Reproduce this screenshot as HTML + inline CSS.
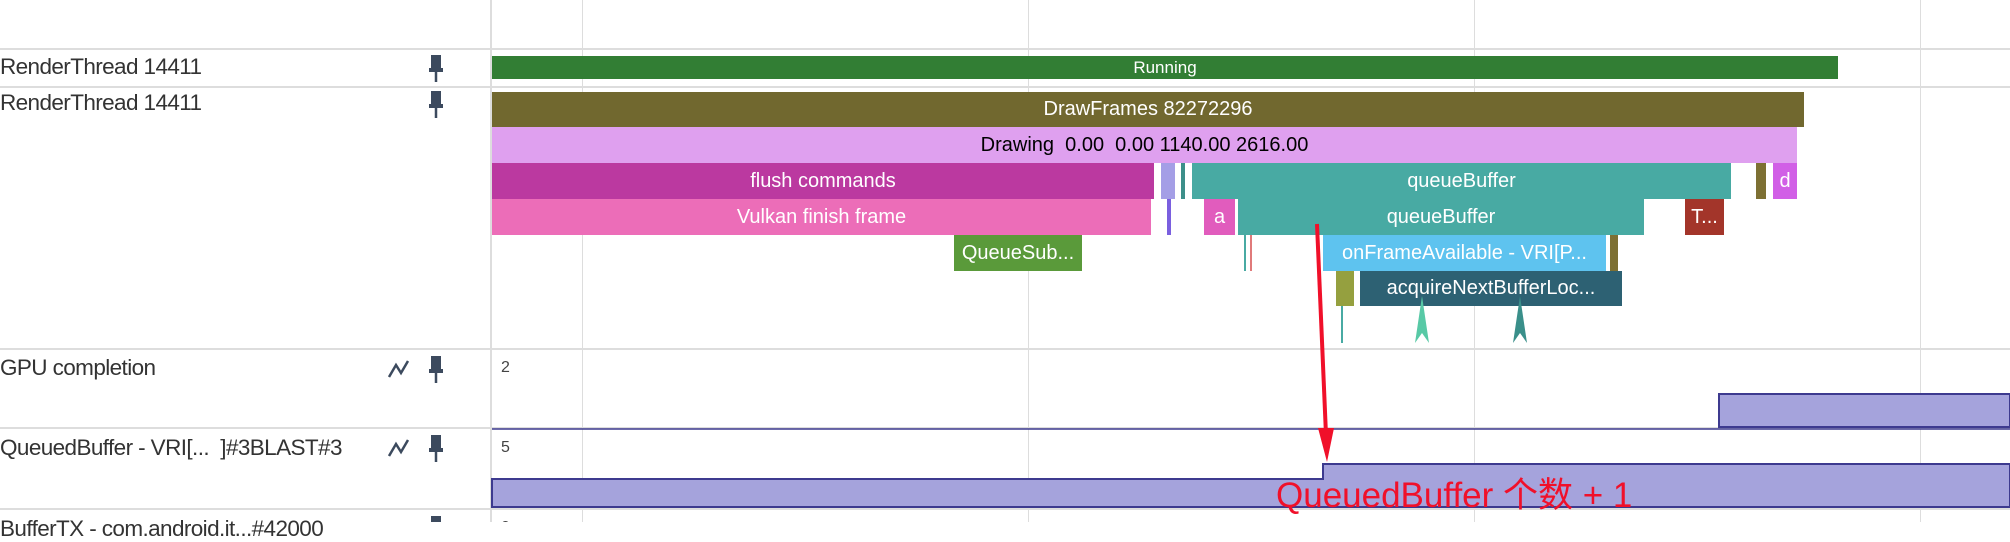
<!DOCTYPE html>
<html><head><meta charset="utf-8"><style>
*{margin:0;padding:0;box-sizing:border-box}
body{width:2010px;height:522px;background:#fff;position:relative;overflow:hidden;font-family:"Liberation Sans","Noto Sans CJK SC",sans-serif}
.a{position:absolute}
.s{position:absolute;color:#fff;font-size:20px;text-align:center;white-space:nowrap;overflow:hidden;display:flex;align-items:center;justify-content:center}
.lbl{position:absolute;left:0;font-size:22.5px;color:#333;letter-spacing:-0.6px;white-space:nowrap}
.h{position:absolute;left:0;width:2010px;height:2px;background:#ddd}
.v{position:absolute;top:0;width:1px;height:522px;background:#ddd}
</style></head><body>
<div class="v" style="left:582px"></div>
<div class="v" style="left:1028px"></div>
<div class="v" style="left:1474px"></div>
<div class="v" style="left:1920px"></div>
<div class="a" style="left:490px;top:0;width:2px;height:522px;background:#ddd"></div>
<div class="h" style="top:48px"></div>
<div class="h" style="top:86px"></div>
<div class="h" style="top:348px"></div>
<div class="h" style="top:427px"></div>
<div class="h" style="top:508px"></div>

<div class="lbl" style="top:54px">RenderThread 14411</div>
<div class="lbl" style="top:90px">RenderThread 14411</div>
<div class="lbl" style="top:355px">GPU completion</div>
<div class="lbl" style="top:435px">QueuedBuffer - VRI[...&nbsp;&nbsp;]#3BLAST#3</div>
<div class="lbl" style="top:516px">BufferTX - com.android.it...#42000</div>

<svg class="a" style="left:0;top:0" width="490" height="522">
<g fill="#3c4a5e" stroke="#3c4a5e">
<g transform="translate(436,55)"><rect x="-5" y="0" width="10" height="16" stroke="none"/><rect x="-7" y="13" width="14" height="4" stroke="none"/><line x1="0" y1="16" x2="0" y2="27" stroke-width="2.5"/></g>
<g transform="translate(436,91)"><rect x="-5" y="0" width="10" height="16" stroke="none"/><rect x="-7" y="13" width="14" height="4" stroke="none"/><line x1="0" y1="16" x2="0" y2="27" stroke-width="2.5"/></g>
<g transform="translate(436,356)"><rect x="-5" y="0" width="10" height="16" stroke="none"/><rect x="-7" y="13" width="14" height="4" stroke="none"/><line x1="0" y1="16" x2="0" y2="27" stroke-width="2.5"/></g>
<g transform="translate(436,435)"><rect x="-5" y="0" width="10" height="16" stroke="none"/><rect x="-7" y="13" width="14" height="4" stroke="none"/><line x1="0" y1="16" x2="0" y2="27" stroke-width="2.5"/></g>
<g transform="translate(436,516)"><rect x="-5" y="0" width="10" height="16" stroke="none"/></g>
<polyline points="389,377 396,365 401,373 408,361" fill="none" stroke-width="2.5"/>
<polyline points="389,456 396,444 401,452 408,440" fill="none" stroke-width="2.5"/>
</g>
</svg>

<div class="s" style="left:492px;top:56px;width:1346px;height:23px;background:#327e34;font-size:17px">Running</div>
<div class="s" style="left:492px;top:92px;width:1312px;height:35px;background:#71682f">DrawFrames 82272296</div>
<div class="s" style="left:492px;top:127px;width:1305px;height:36px;background:#dfa0ef;color:#000">Drawing&nbsp; 0.00&nbsp; 0.00 1140.00 2616.00</div>
<div class="s" style="left:492px;top:163px;width:662px;height:36px;background:#bb39a0">flush commands</div>
<div class="a" style="left:1161px;top:163px;width:14px;height:36px;background:#a49ee6"></div>
<div class="a" style="left:1181px;top:163px;width:4px;height:36px;background:#3d8f8a"></div>
<div class="s" style="left:1192px;top:163px;width:539px;height:36px;background:#48aaa3">queueBuffer</div>
<div class="a" style="left:1756px;top:163px;width:10px;height:36px;background:#7d7033"></div>
<div class="s" style="left:1773px;top:163px;width:24px;height:36px;background:#d15fe6">d</div>
<div class="s" style="left:492px;top:199px;width:659px;height:36px;background:#ec6db8">Vulkan finish frame</div>
<div class="a" style="left:1167px;top:199px;width:4px;height:36px;background:#7a5fdf"></div>
<div class="s" style="left:1204px;top:199px;width:31px;height:36px;background:#e15cbd">a</div>
<div class="s" style="left:1238px;top:199px;width:406px;height:36px;background:#48aaa3">queueBuffer</div>
<div class="s" style="left:1685px;top:199px;width:39px;height:36px;background:#a3352a">T...</div>
<div class="s" style="left:954px;top:235px;width:128px;height:36px;background:#5a9a3a">QueueSub...</div>
<div class="a" style="left:1244px;top:235px;width:2px;height:36px;background:#48aaa3"></div>
<div class="a" style="left:1250px;top:235px;width:2px;height:36px;background:#e07a7a"></div>
<div class="s" style="left:1323px;top:235px;width:283px;height:36px;background:#5ec3ef">onFrameAvailable - VRI[P...</div>
<div class="a" style="left:1610px;top:235px;width:8px;height:36px;background:#7d7033"></div>
<div class="a" style="left:1336px;top:271px;width:18px;height:35px;background:#95a03f"></div>
<div class="s" style="left:1360px;top:271px;width:262px;height:35px;background:#2d6173">acquireNextBufferLoc...</div>
<div class="a" style="left:1341px;top:306px;width:2px;height:37px;background:#48aaa3"></div>

<svg class="a" style="left:0;top:0" width="2010" height="522">
<polygon points="1422,296 1415,343 1422,333 1429,343" fill="#58c9a6"/>
<polygon points="1520,296 1513,343 1520,333 1527,343" fill="#3a8f8a"/>
<polygon points="1719,427 1719,394 2010,394 2010,427" fill="#a5a3dc" stroke="#3d3a8f" stroke-width="2"/>
<line x1="492" y1="429" x2="2010" y2="429" stroke="#3d3a8f" stroke-width="1.5"/>
<polygon points="492,507 492,479 1323,479 1323,464 2010,464 2010,507" fill="#a5a3dc" stroke="#3d3a8f" stroke-width="2"/>
<line x1="1317" y1="224" x2="1326" y2="435" stroke="#f0102a" stroke-width="4"/>
<polygon points="1318,428 1334,428 1327,462" fill="#f0102a"/>
<text x="501" y="372" font-size="16" fill="#444" font-family="Liberation Sans">2</text>
<text x="501" y="452" font-size="16" fill="#444" font-family="Liberation Sans">5</text>
<text x="501" y="532" font-size="16" fill="#444" font-family="Liberation Sans">0</text>
<text x="1276" y="507" font-size="35" fill="#f0102a" font-family="Liberation Sans, Noto Sans CJK SC, sans-serif">QueuedBuffer 个数 + 1</text>
</svg>
</body></html>
